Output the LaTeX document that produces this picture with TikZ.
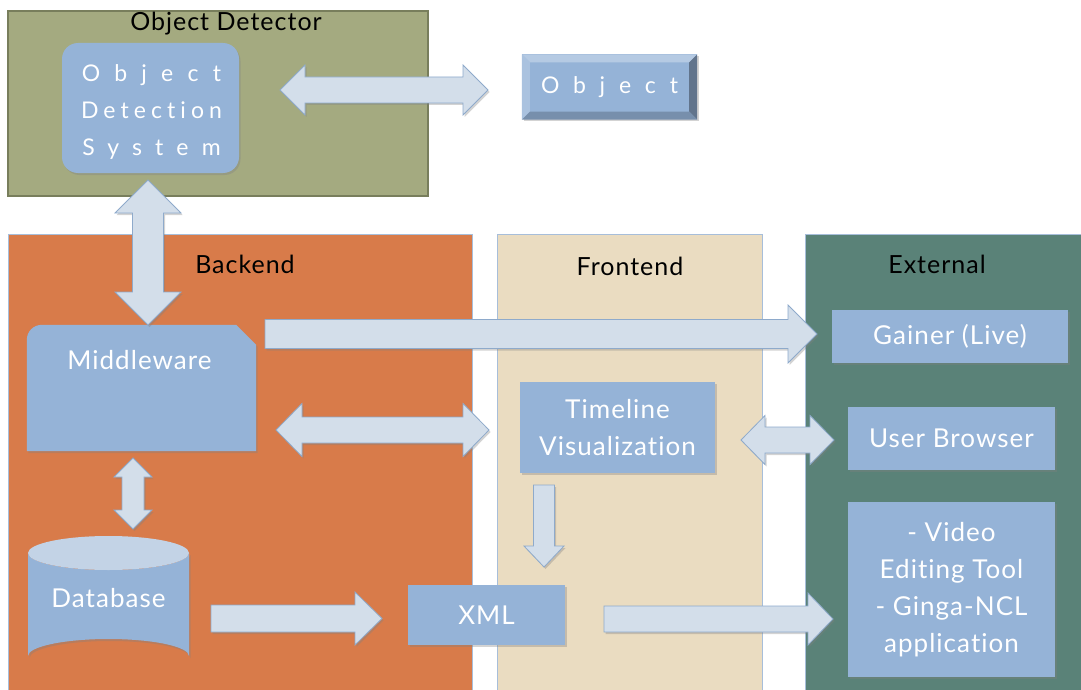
\documentclass[tikz,border=0pt]{standalone}
\usepackage{fontspec}
\setmainfont{Lato}[LetterSpace=4, Ligatures=NoCommon]
\usetikzlibrary{calc, shadows}

\definecolor{odgreen}{HTML}{A4AA80}
\definecolor{odline}{HTML}{787E5C}
\definecolor{backorange}{HTML}{D87B4A}
\definecolor{frontbeige}{HTML}{EADCC1}
\definecolor{extteal}{HTML}{5A8278}
\definecolor{panelline}{HTML}{A7BEDA}
\definecolor{boxblue}{HTML}{95B3D7}
\definecolor{arrowfill}{HTML}{D3DEEA}
\definecolor{arrowline}{HTML}{8EAACB}
\definecolor{dbtop}{HTML}{C3D3E6}

% block arrows: from, to, shaft half width, head half width, head length
\newcommand{\blockarrow}[5]{%
  \coordinate (ba1) at ($(#2)!#5pt!(#1)$);
  \path[barrow] ($(#1)!#3pt!90:(#2)$) -- ($(ba1)!#3pt!90:(#2)$) -- ($(ba1)!#4pt!90:(#2)$) -- (#2)
    -- ($(ba1)!#4pt!-90:(#2)$) -- ($(ba1)!#3pt!-90:(#2)$) -- ($(#1)!#3pt!-90:(#2)$) -- cycle;
}
\newcommand{\dblarrow}[5]{%
  \coordinate (ba1) at ($(#2)!#5pt!(#1)$);
  \coordinate (ba2) at ($(#1)!#5pt!(#2)$);
  \path[barrow] (#1) -- ($(ba2)!#4pt!90:(#2)$) -- ($(ba2)!#3pt!90:(#2)$) -- ($(ba1)!#3pt!90:(#2)$)
    -- ($(ba1)!#4pt!90:(#2)$) -- (#2) -- ($(ba1)!#4pt!-90:(#2)$) -- ($(ba1)!#3pt!-90:(#2)$)
    -- ($(ba2)!#3pt!-90:(#2)$) -- ($(ba2)!#4pt!-90:(#2)$) -- cycle;
}

\tikzset{
  shade/.style={drop shadow={shadow xshift=1.5pt, shadow yshift=-2pt, opacity=0.35}},
  barrow/.style={fill=arrowfill, draw=arrowline, line width=0.8pt, shade},
  boxtext/.style={text=white, inner sep=0pt, align=center, font=\fontsize{26}{37}\selectfont},
  box/.style={boxtext, fill=boxblue, shade},
  panel/.style={draw=panelline, line width=0.8pt},
  title/.style={font=\fontsize{25}{28}\selectfont, text=black}
}

\begin{document}
\begin{tikzpicture}[x=1pt, y=-1pt]
  \useasboundingbox (0,0) rectangle (1081,690);

  % Panels
  \draw[fill=odgreen, draw=odline, line width=1.2pt] (8,11) rectangle (428,196);
  \node[title] (odtitle) at (226,24) {Object Detector};
  \fill[backorange, panel] (8,234) rectangle (472,692);
  \node[title] (betitle) at (245,264) {Backend};
  \fill[frontbeige, panel] (497,234) rectangle (762,692);
  \node[title] (fetitle) at (630,266) {Frontend};
  \fill[extteal, panel] (805,234) rectangle (1083,692);
  \node[title] (extitle) at (937,264) {External};

  % Object detector
  \node[box, rounded corners=16pt, minimum width=177pt, minimum height=130pt] (ods) at (150.5,108) {};
  \node[boxtext, font=\fontsize{23}{37}\selectfont] (odstext) at ($(ods.center)+(1,4)$)
    {{\addfontfeature{LetterSpace=62}Object}\\{\addfontfeature{LetterSpace=22}Detection}\\{\addfontfeature{LetterSpace=57}System}};
  \node[box, minimum width=175pt, minimum height=65pt, font=\fontsize{23}{37}\selectfont] (obj) at (609.5,87)
    {\addfontfeature{LetterSpace=60}Object};
  \fill[white!30!boxblue] (obj.north west) -- (obj.north east) -- ($(obj.north east)+(-8,8)$) -- ($(obj.north west)+(8,8)$) -- cycle;
  \fill[white!20!boxblue] (obj.north west) -- ($(obj.north west)+(8,8)$) -- ($(obj.south west)+(8,-8)$) -- (obj.south west) -- cycle;
  \fill[black!35!boxblue] (obj.north east) -- ($(obj.north east)+(-8,8)$) -- ($(obj.south east)+(-8,-8)$) -- (obj.south east) -- cycle;
  \fill[black!20!boxblue] (obj.south west) -- ($(obj.south west)+(8,-8)$) -- ($(obj.south east)+(-8,-8)$) -- (obj.south east) -- cycle;

  % Backend
  \node[inner sep=0pt, minimum width=229pt, minimum height=126pt] (mw) at (141.5,388) {};
  \path[fill=boxblue, shade] (mw.south west) [rounded corners=15pt] -- (mw.north west) [sharp corners]
    -- ($(mw.north east)+(-20,0)$) -- ($(mw.north east)+(0,20)$) -- (mw.south east) -- cycle;
  \node[boxtext] (mwtext) at ($(mw.north)+(-2,35)$) {Middleware};

  \path[fill=boxblue, shade] (28,553) -- (28,656) arc[x radius=80.5, y radius=17, start angle=180, end angle=360]
    -- (189,553) arc[x radius=80.5, y radius=17, start angle=0, end angle=180] -- cycle;
  \fill[dbtop] (108.5,553) ellipse[x radius=80.5, y radius=17];
  \node[boxtext] (db) at (108.5,598) {Database};

  % Frontend
  \node[box, minimum width=157pt, minimum height=60pt] (xml) at (486.5,615) {XML};
  \node[box, minimum width=195pt, minimum height=91pt] (tl) at (617.5,427.5) {Timeline\\Visualization};

  % External
  \node[box, minimum width=236pt, minimum height=53pt] (gainer) at (950,336.5) {Gainer (Live)};
  \node[box, minimum width=207pt, minimum height=63pt] (ub) at (951.5,438.5) {User Browser};
  \node[box, minimum width=207pt, minimum height=175pt] (vid) at (951.5,589.5)
    {- Video\\Editing Tool\\- Ginga-NCL\\application};

  % Arrow ends
  \coordinate (odsR) at (280,90);   \coordinate (objL) at (488,90);
  \coordinate (odsB) at (148,180);  \coordinate (mwT) at (148,325);
  \coordinate (mwR) at (265,334);   \coordinate (gainerL) at (817,334);
  \coordinate (mwR2) at (276,430);  \coordinate (tlL) at (489,430);
  \coordinate (tlR) at (741,440);   \coordinate (ubL) at (834,440);
  \coordinate (mwB) at (133,458);   \coordinate (dbT) at (133,529);
  \coordinate (tlB) at (544,485);   \coordinate (xmlT) at (544,567);
  \coordinate (dbR) at (211,618.5); \coordinate (xmlL) at (382,618.5);
  \coordinate (xmlR) at (604,619);  \coordinate (vidL) at (833,619);

  % Arrows
  \dblarrow{odsR}{objL}{13}{25}{25}
  \dblarrow{odsB}{mwT}{15.5}{33}{33}
  \blockarrow{mwR}{gainerL}{14.5}{29}{29}
  \dblarrow{mwR2}{tlL}{13}{26.5}{26}
  \dblarrow{tlR}{ubL}{13}{24.5}{24}
  \dblarrow{mwB}{dbT}{11}{19}{19}
  \blockarrow{tlB}{xmlT}{10.5}{20}{21}
  \blockarrow{dbR}{xmlL}{13.5}{26.5}{27}
  \blockarrow{xmlR}{vidL}{13}{26}{25}
\end{tikzpicture}
\end{document}
